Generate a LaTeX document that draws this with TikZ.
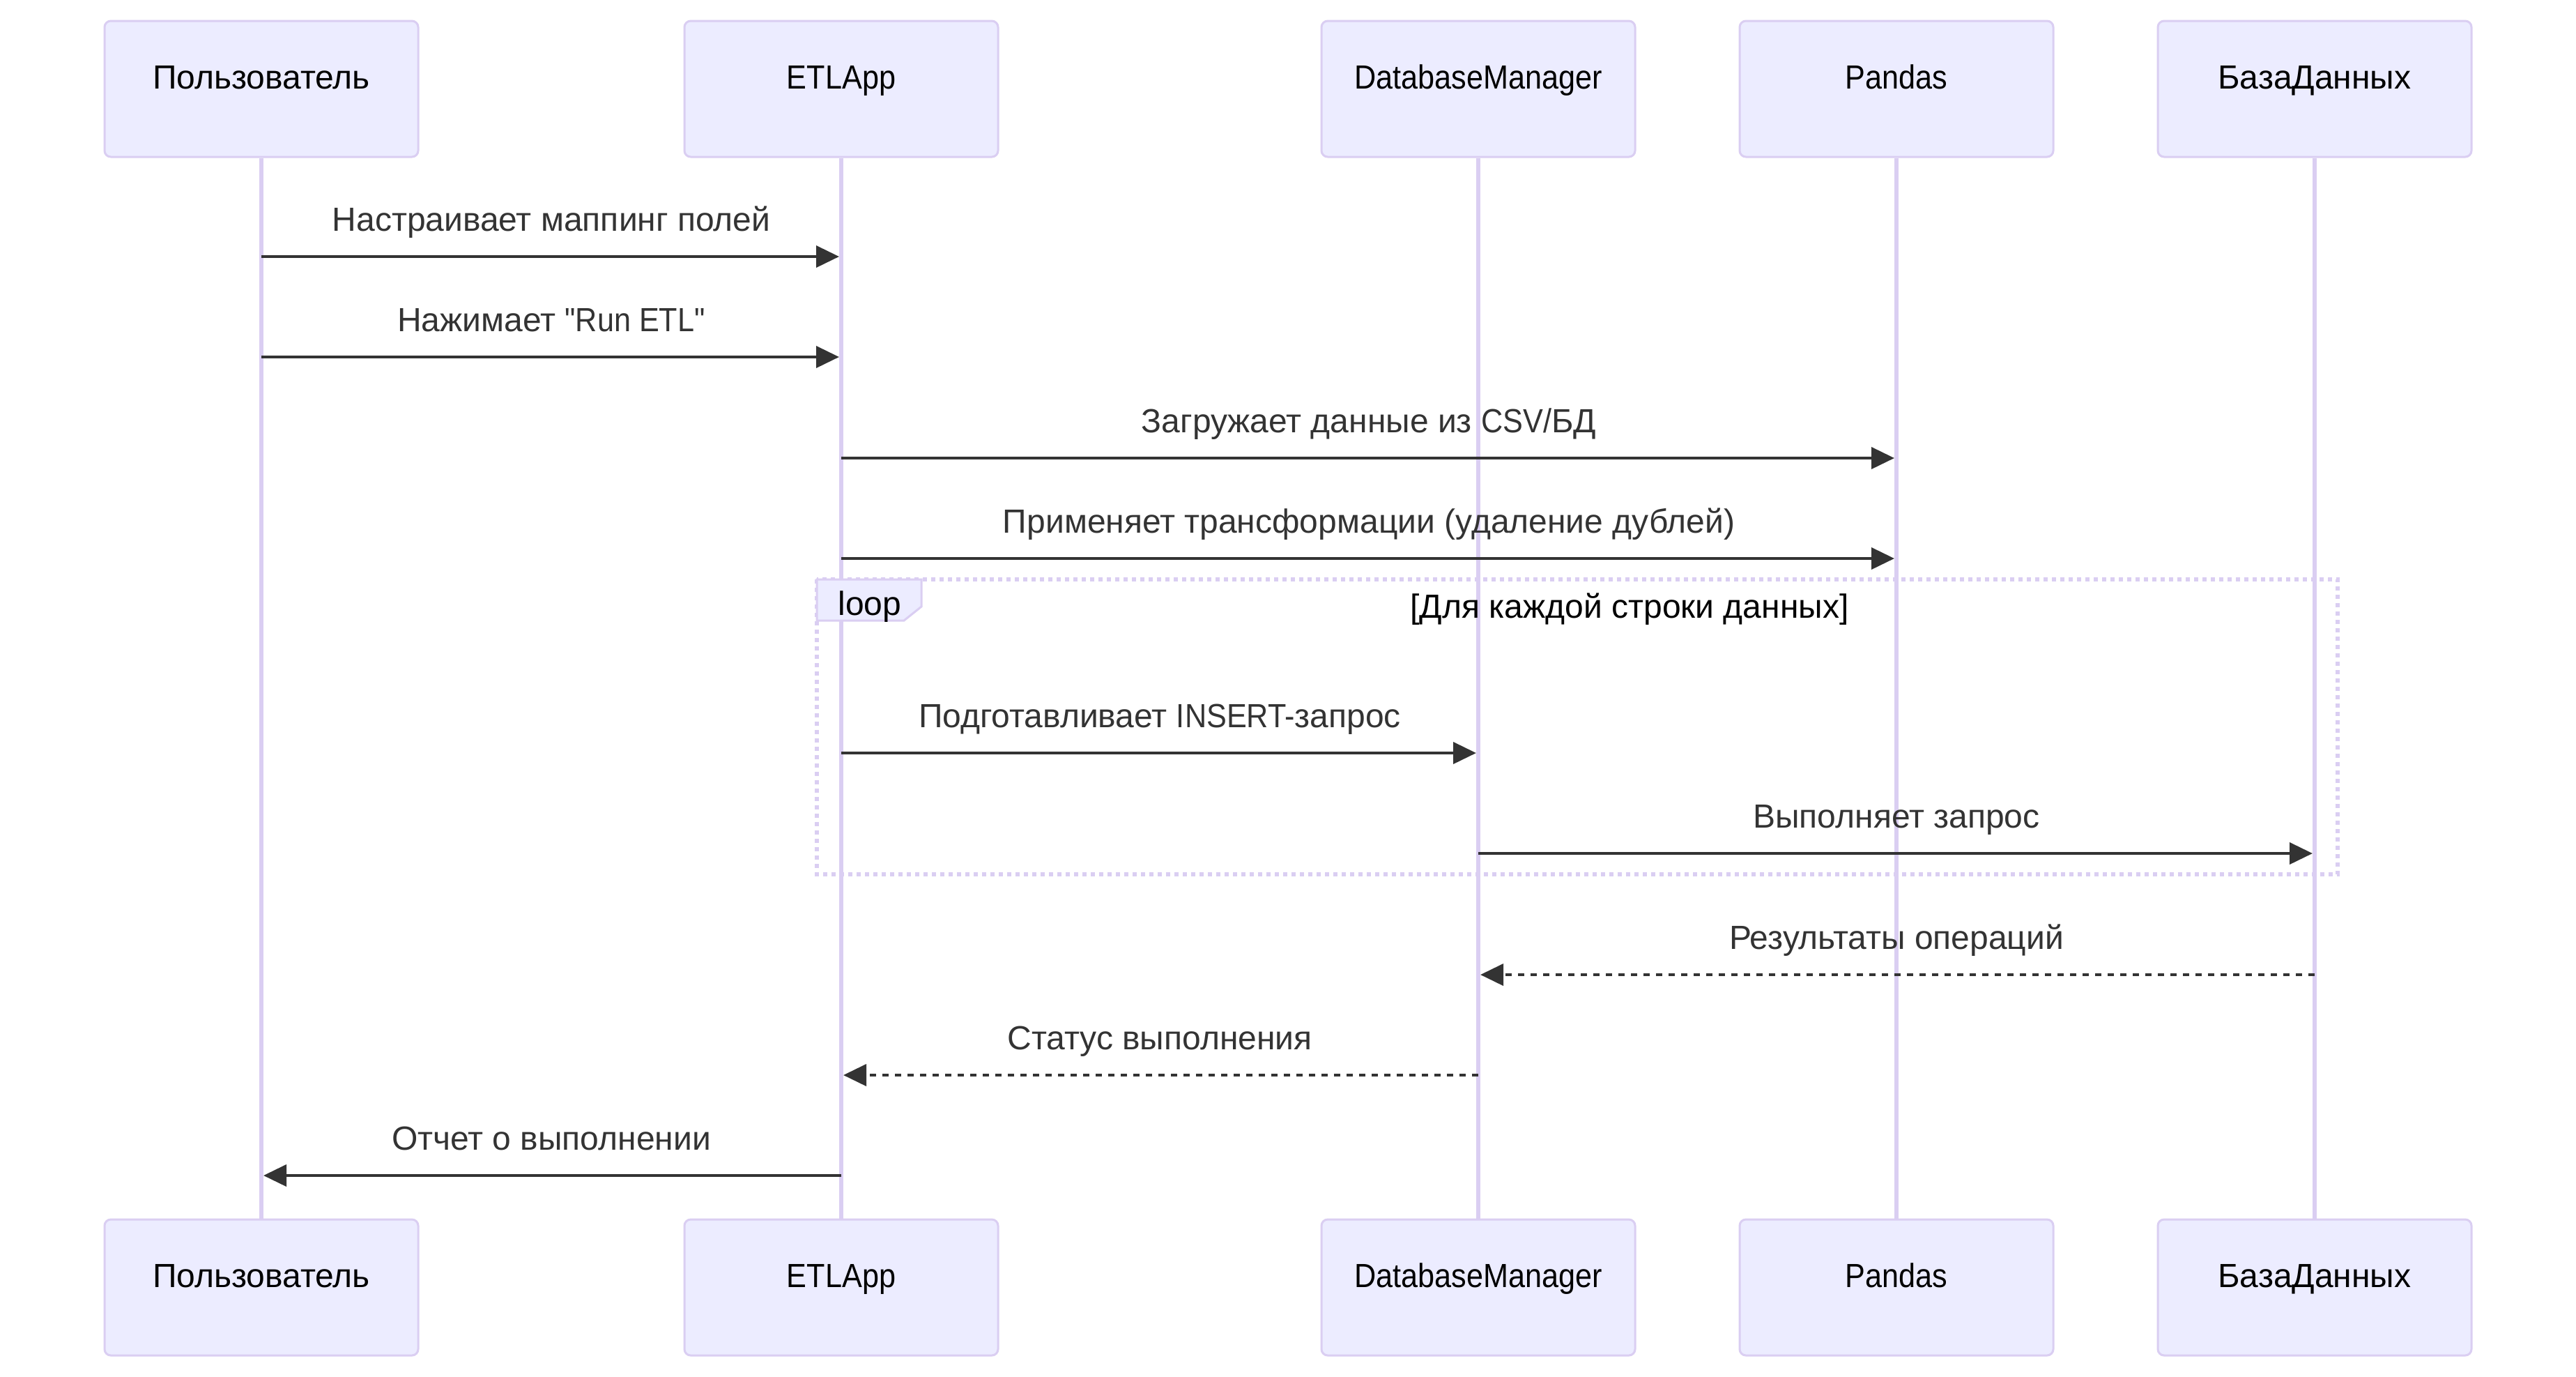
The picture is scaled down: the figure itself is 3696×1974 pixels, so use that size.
\documentclass[tikz,border=0pt]{standalone}
\usepackage{fontspec}
\setmainfont{Liberation Sans}[Ligatures=TeXOff]
\usetikzlibrary{arrows.meta}
\definecolor{actfill}{HTML}{ECECFF}
\definecolor{actline}{HTML}{DACEF2}
\definecolor{msgcol}{HTML}{333333}
\newcommand\lat[1]{\scalebox{0.9}[1]{#1}}
\tikzset{
  actor/.style={draw=actline, fill=actfill, line width=0.75pt, rounded corners=2.25pt,
    minimum width=112.5pt, minimum height=48.75pt, inner sep=0pt,
    text height=0pt, text depth=0pt, text=black,
    font=\fontsize{12pt}{14pt}\selectfont},
  lifeline/.style={draw=actline, line width=1.4pt},
  msg/.style={draw=msgcol, line width=1.125pt, shorten >=0.75pt,
    -{Triangle[length=8.25pt,width=7.7pt]}},
  dmsg/.style={msg, dash pattern=on 2.25pt off 2.25pt},
  msglabel/.style={anchor=base, yshift=9.25pt, inner sep=0pt, text=msgcol,
    font=\fontsize{12pt}{14pt}\selectfont},
  looptext/.style={anchor=base, inner sep=0pt, text=black,
    font=\fontsize{12pt}{14pt}\selectfont},
  loopframe/.style={draw=actline, line width=1.5pt, dash pattern=on 1.5pt off 1.5pt},
  looplabel/.style={draw=actline, fill=actfill, line width=0.75pt}
}
\begin{document}
\begin{tikzpicture}[x=0.25pt,y=-0.25pt]
\useasboundingbox[fill=white] (0,0) rectangle (3696,1974);

% actors, top
\node[actor] (Ut) at (375,127.5) {Пользователь};
\node[actor] (Et) at (1207,127.5) {\lat{ETLApp}};
\node[actor] (Dt) at (2121,127.5) {\lat{DatabaseManager}};
\node[actor] (Pt) at (2721,127.5) {\lat{Pandas}};
\node[actor] (Bt) at (3321,127.5) {БазаДанных};
% actors, bottom
\node[actor] (Ub) at (375,1846.5) {Пользователь};
\node[actor] (Eb) at (1207,1846.5) {\lat{ETLApp}};
\node[actor] (Db) at (2121,1846.5) {\lat{DatabaseManager}};
\node[actor] (Pb) at (2721,1846.5) {\lat{Pandas}};
\node[actor] (Bb) at (3321,1846.5) {БазаДанных};

% lifelines
\draw[lifeline] (Ut.south) -- (Ub.north);
\draw[lifeline] (Et.south) -- (Eb.north);
\draw[lifeline] (Dt.south) -- (Db.north);
\draw[lifeline] (Pt.south) -- (Pb.north);
\draw[lifeline] (Bt.south) -- (Bb.north);

% loop frame
\draw[loopframe] (1172,831) rectangle (3354,1254);
\draw[looplabel] (1172,831) -- (1322,831) -- (1322,870) -- (1297,890) -- (1172,890) -- cycle;
\node[looptext] (looplbl) at (1248,882) {loop};
\node[looptext] (loopcond) at (2338,886) {[Для каждой строки данных]};

% message rows
\coordinate (r1) at (0,368);
\coordinate (r2) at (0,512);
\coordinate (r3) at (0,657);
\coordinate (r4) at (0,801);
\coordinate (r5) at (0,1080);
\coordinate (r6) at (0,1224);
\coordinate (r7) at (0,1398);
\coordinate (r8) at (0,1542);
\coordinate (r9) at (0,1686);

\draw[msg] (Ut.south |- r1) -- node[msglabel] (l1) {Настраивает маппинг полей} (Et.south |- r1);
\draw[msg] (Ut.south |- r2) -- node[msglabel] (l2) {Нажимает \lat{"Run ETL"}} (Et.south |- r2);
\draw[msg] (Et.south |- r3) -- node[msglabel] (l3) {Загружает данные из \lat{CSV/}БД} (Pt.south |- r3);
\draw[msg] (Et.south |- r4) -- node[msglabel] (l4) {Применяет трансформации (удаление дублей)} (Pt.south |- r4);
\draw[msg] (Et.south |- r5) -- node[msglabel] (l5) {Подготавливает \lat{INSERT-}запрос} (Dt.south |- r5);
\draw[msg] (Dt.south |- r6) -- node[msglabel] (l6) {Выполняет запрос} (Bt.south |- r6);
\draw[dmsg] (Bt.south |- r7) -- node[msglabel] (l7) {Результаты операций} (Dt.south |- r7);
\draw[dmsg] (Dt.south |- r8) -- node[msglabel] (l8) {Статус выполнения} (Et.south |- r8);
\draw[msg] (Et.south |- r9) -- node[msglabel] (l9) {Отчет о выполнении} (Ut.south |- r9);
\end{tikzpicture}
\end{document}
